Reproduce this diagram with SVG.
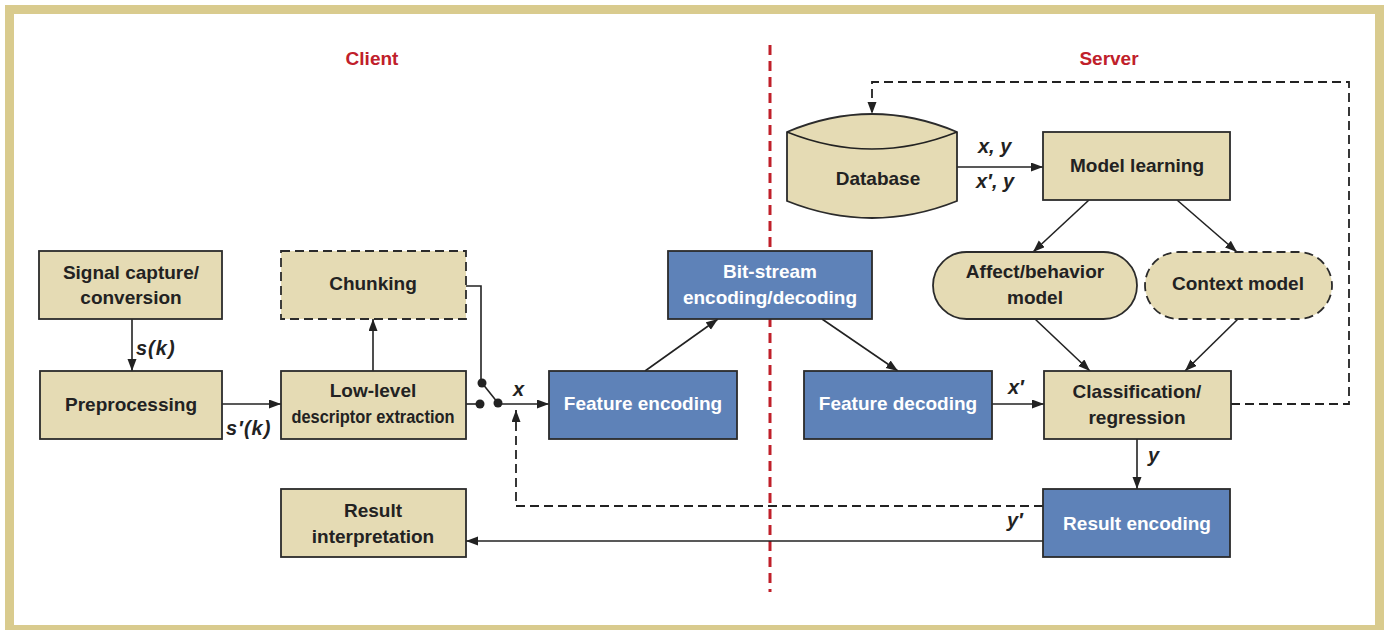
<svg xmlns="http://www.w3.org/2000/svg" width="1387" height="630" viewBox="0 0 1387 630">
  <defs>
    <marker id="arrow" markerUnits="userSpaceOnUse" markerWidth="13" markerHeight="10" refX="12" refY="4.5" orient="auto">
      <path d="M0,0 L12,4.5 L0,9 z" fill="#222"/>
    </marker>
    <style>
      .frame { fill: #ffffff; stroke: #D9CB8E; stroke-width: 9; }
      .tan { fill: #E5DBB4; stroke: #2b2b2b; stroke-width: 1.8; }
      .blue { fill: #5E82B8; stroke: #2b2b2b; stroke-width: 1.8; }
      .dash { stroke-dasharray: 9 5; }
      .t { font-family: "Liberation Sans", Arial, sans-serif; font-weight: bold; font-size: 19px; fill: #222; text-anchor: middle; }
      .w { fill: #ffffff; }
      .side { font-family: "Liberation Sans", Arial, sans-serif; font-weight: bold; font-size: 19px; fill: #C0202A; text-anchor: middle; }
      .lbl { font-family: "Liberation Sans", Arial, sans-serif; font-weight: bold; font-style: italic; font-size: 20px; fill: #222; }
      .ln { fill: none; stroke: #222; stroke-width: 1.6; }
      .arr { marker-end: url(#arrow); }
      .dln { fill: none; stroke: #222; stroke-width: 1.8; stroke-dasharray: 9 5; }
      .dot { fill: #222; }
    </style>
  </defs>

  <!-- outer frame -->
  <rect class="frame" x="9.5" y="9.5" width="1370" height="620"/>

  <!-- client / server split -->
  <g id="divider">
    <line x1="770" y1="45" x2="770" y2="592" stroke="#C0202A" stroke-width="3" stroke-dasharray="10 6"/>
    <text class="side" x="372" y="65">Client</text>
    <text class="side" x="1109" y="65">Server</text>
  </g>

  <!-- connectors -->
  <g id="connectors">
    <line class="ln arr" x1="132" y1="319" x2="132" y2="371"/>
    <line class="ln arr" x1="222" y1="404" x2="281" y2="404"/>
    <line class="ln arr" x1="373" y1="371" x2="373" y2="319"/>
    <polyline class="ln" points="466,286 481,286 481,383"/>
    <line class="ln" x1="466" y1="404" x2="479" y2="404"/>
    <line class="ln" x1="482" y1="383" x2="498" y2="403"/>
    <line class="ln arr" x1="498" y1="404" x2="549" y2="404"/>
    <line class="ln arr" x1="645" y1="371" x2="718" y2="319"/>
    <line class="ln arr" x1="822" y1="319" x2="898" y2="371"/>
    <line class="ln arr" x1="992" y1="404" x2="1044" y2="404"/>
    <line class="ln arr" x1="957" y1="167" x2="1043" y2="167"/>
    <line class="ln arr" x1="1089" y1="200" x2="1033" y2="252"/>
    <line class="ln arr" x1="1177" y1="200" x2="1237" y2="252"/>
    <line class="ln arr" x1="1035" y1="319" x2="1090" y2="371"/>
    <line class="ln arr" x1="1238" y1="319" x2="1185" y2="371"/>
    <line class="ln arr" x1="1137" y1="439" x2="1137" y2="489"/>
    <line class="ln arr" x1="1043" y1="541" x2="466" y2="541"/>
    <polyline class="dln arr" points="1231,404 1349,404 1349,82 872,82 872,114"/>
    <polyline class="dln arr" points="1043,506 516,506 516,410"/>
    <circle class="dot" cx="482" cy="383" r="4.5"/>
    <circle class="dot" cx="480" cy="404" r="4.5"/>
    <circle class="dot" cx="498" cy="403" r="4.5"/>
    <text class="lbl" x="136" y="355" letter-spacing="1">s(k)</text>
    <text class="lbl" x="226" y="435" letter-spacing="1">s′(k)</text>
    <text class="lbl" x="513" y="396">x</text>
    <text class="lbl" x="1008" y="394">x′</text>
    <text class="lbl" x="1148" y="462">y</text>
    <text class="lbl" x="1007" y="527">y′</text>
    <text class="lbl" x="978" y="153">x, y</text>
    <text class="lbl" x="976" y="188">x′, y</text>
  </g>

  <!-- client side nodes -->
  <g id="signal-capture">
    <rect class="tan" x="39" y="251" width="183" height="68"/>
    <text class="t" x="131" y="279">Signal capture/</text>
    <text class="t" x="131" y="304">conversion</text>
  </g>
  <g id="preprocessing">
    <rect class="tan" x="40" y="371" width="182" height="68"/>
    <text class="t" x="131" y="411">Preprocessing</text>
  </g>
  <g id="chunking">
    <rect class="tan dash" x="281" y="251" width="185" height="68"/>
    <text class="t" x="373" y="290">Chunking</text>
  </g>
  <g id="low-level">
    <rect class="tan" x="281" y="371" width="185" height="68"/>
    <text class="t" x="373" y="397">Low-level</text>
    <text class="t" x="373" y="423" textLength="163" lengthAdjust="spacingAndGlyphs">descriptor extraction</text>
  </g>
  <g id="feature-encoding">
    <rect class="blue" x="549" y="371" width="188" height="68"/>
    <text class="t w" x="643" y="410">Feature encoding</text>
  </g>
  <g id="result-interpretation">
    <rect class="tan" x="281" y="489" width="185" height="68"/>
    <text class="t" x="373" y="517">Result</text>
    <text class="t" x="373" y="543">interpretation</text>
  </g>

  <!-- channel -->
  <g id="bit-stream">
    <rect class="blue" x="668" y="251" width="204" height="68"/>
    <text class="t w" x="770" y="278">Bit-stream</text>
    <text class="t w" x="770" y="304">encoding/decoding</text>
  </g>

  <!-- server side nodes -->
  <g id="feature-decoding">
    <rect class="blue" x="804" y="371" width="188" height="68"/>
    <text class="t w" x="898" y="410">Feature decoding</text>
  </g>
  <g id="database">
    <path class="tan" d="M787,132 Q872,96 957,132 L957,201 Q872,235 787,201 Z"/>
    <path class="ln" d="M787,132 Q872,166 957,132" stroke-width="1.8"/>
    <text class="t" x="878" y="185">Database</text>
  </g>
  <g id="model-learning">
    <rect class="tan" x="1043" y="132" width="187" height="68"/>
    <text class="t" x="1137" y="172">Model learning</text>
  </g>
  <g id="affect-model">
    <rect class="tan" x="933" y="252" width="204" height="67" rx="33.5"/>
    <text class="t" x="1035" y="278">Affect/behavior</text>
    <text class="t" x="1035" y="304">model</text>
  </g>
  <g id="context-model">
    <rect class="tan dash" x="1145" y="252" width="187" height="67" rx="33.5"/>
    <text class="t" x="1238" y="290">Context model</text>
  </g>
  <g id="classification">
    <rect class="tan" x="1044" y="371" width="187" height="68"/>
    <text class="t" x="1137" y="398">Classification/</text>
    <text class="t" x="1137" y="424">regression</text>
  </g>
  <g id="result-encoding">
    <rect class="blue" x="1043" y="489" width="187" height="68"/>
    <text class="t w" x="1137" y="530">Result encoding</text>
  </g>
</svg>
